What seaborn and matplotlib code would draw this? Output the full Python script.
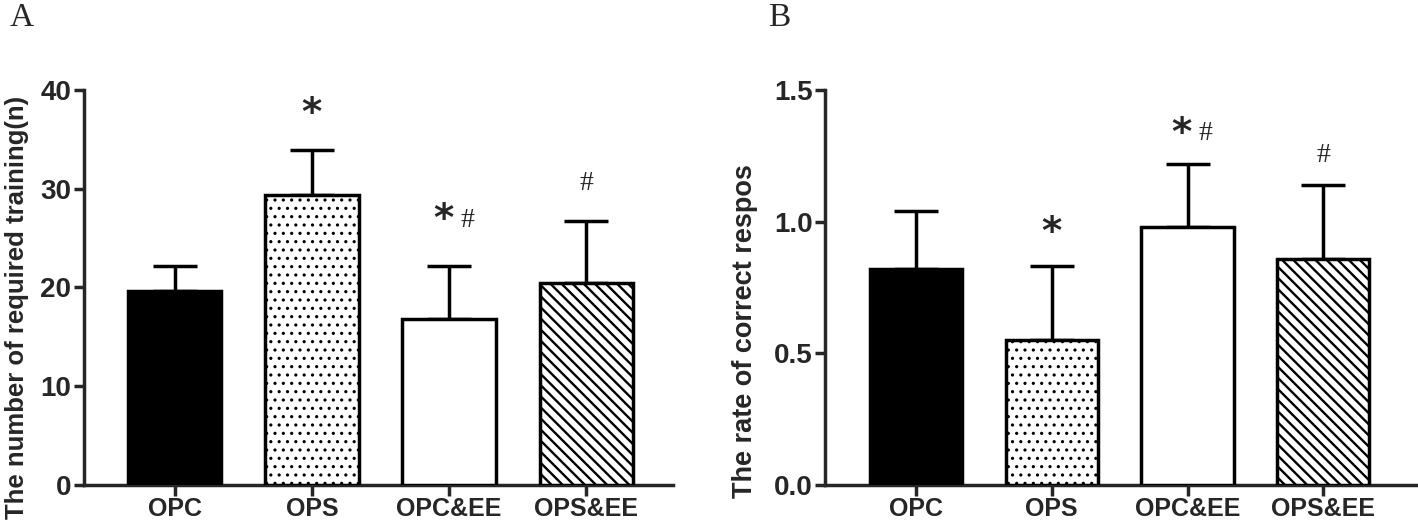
import matplotlib
matplotlib.use("Agg")
import matplotlib.pyplot as plt
import seaborn as sns
import numpy as np
import pandas as pd

groups = ["OPC", "OPS", "OPC&EE", "OPS&EE"]
trainings = [19.6, 29.4, 16.8, 20.5]
trainings_err = [2.6, 4.5, 5.4, 6.2]
rates = [0.82, 0.55, 0.98, 0.86]
rates_err = [0.22, 0.28, 0.24, 0.28]
marks_a = ["", "*", "*#", "#"]
marks_b = ["", "*", "*#", "#"]
ylabel_a = "The number of required training(n)"
ylabel_b = "The rate of correct respos"

sns.set_theme(style="ticks")
plt.rcParams['font.family'] = ['Liberation Sans', 'DejaVu Sans']
plt.rcParams['hatch.linewidth'] = 1.7

fig = plt.figure(figsize=(14.18, 5.27), dpi=100)
axA = fig.add_axes([0.0592, 0.0797, 0.4154, 0.7496])
axB = fig.add_axes([0.5818, 0.0797, 0.4175, 0.7496])

faces = ["black", "white", "white", "white"]
hatches = [None, "..", None, "\\\\\\"]


def panel(ax, vals, errs, marks, ylim, yticks, ylabel, xlim, mark_pos, lab_xy,
          lab_size):
    df = pd.DataFrame({"group": groups, "value": vals})
    sns.barplot(data=df, x="group", y="value", hue="group", palette=faces,
                legend=False, width=0.68, errorbar=None, ax=ax,
                edgecolor="black", linewidth=2.5)
    for p, h in zip(ax.patches, hatches):
        p.set_zorder(3)
        if h:
            p.set_hatch(h)
            if h == ".." and hasattr(p, "set_hatch_linewidth"):
                p.set_hatch_linewidth(1.1)
    ax.errorbar(np.arange(len(groups)), vals, yerr=[np.zeros(len(vals)), errs],
                fmt="none", ecolor="black", elinewidth=2.5, capsize=16,
                capthick=2.5, zorder=2)
    ax.set_ylim(*ylim)
    ax.set_xlim(*xlim)
    ax.set_yticks(yticks)
    ax.set_xlabel("")
    ax.set_ylabel(ylabel, fontsize=lab_size, fontweight="bold")
    ax.yaxis.set_label_coords(*lab_xy)
    for s in ["top", "right"]:
        ax.spines[s].set_visible(False)
    for s in ["left", "bottom"]:
        ax.spines[s].set_linewidth(2.5)
    ax.tick_params(axis="both", width=2.5, direction="out")
    ax.tick_params(axis="y", labelsize=20, pad=2, length=7)
    ax.tick_params(axis="x", labelsize=18, pad=1, length=8)
    for lab in ax.get_xticklabels() + ax.get_yticklabels():
        lab.set_fontweight("bold")
    for i, (m, yp) in enumerate(zip(marks, mark_pos)):
        if not m:
            continue
        if m == "*":
            ax.text(i, yp, "*", ha="center", va="center", fontsize=28,
                    fontweight="bold", family=["DejaVu Sans"])
        elif m == "#":
            ax.text(i, yp, "#", ha="center", va="center", fontsize=20,
                    family=["Liberation Serif"])
        else:
            ax.text(i - 0.045, yp, "*", ha="center", va="center", fontsize=28,
                    fontweight="bold", family=["DejaVu Sans"])
            ax.text(i + 0.13, yp, "#", ha="center", va="center",
                    fontsize=20, family=["Liberation Serif"])


panel(axA, trainings, trainings_err, marks_a, (0, 40), [0, 10, 20, 30, 40],
      ylabel_a, (-0.66, 3.63), [0, 37.6, 26.8, 30.5], (-0.093, 0.45), 18.5)
panel(axB, rates, rates_err, marks_b, (0, 1.5), [0.0, 0.5, 1.0, 1.5],
      ylabel_b, (-0.67, 3.69), [0.0, 0.955, 1.333, 1.253], (-0.113, 0.39), 19.5)
axB.set_yticklabels(["0.0", "0.5", "1.0", "1.5"])

fig.text(0.007, 0.995, "A", fontsize=24, family=["Liberation Serif"], va="top")
fig.text(0.542, 0.995, "B", fontsize=24, family=["Liberation Serif"], va="top")

fig.savefig("out.png", dpi=100)
